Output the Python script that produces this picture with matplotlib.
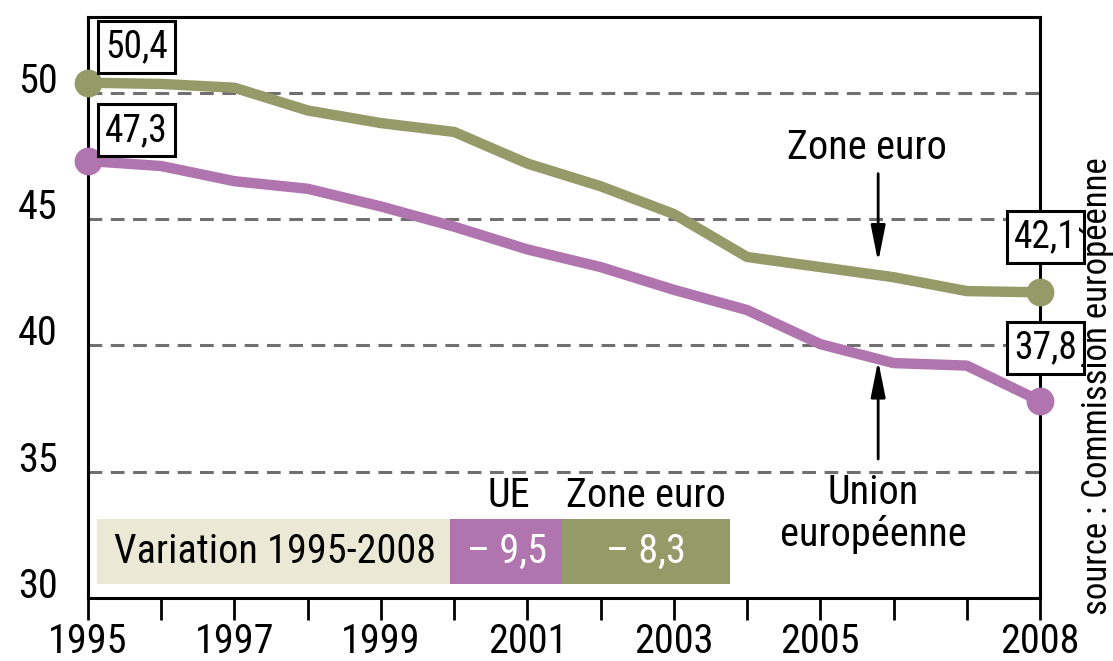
import matplotlib.pyplot as plt
import matplotlib.patches as mpatches
import numpy as np

# Data
years = np.arange(1995, 2009)
zone_euro = [50.4, 50.35, 50.2, 49.3, 48.8, 48.45, 47.2, 46.3, 45.2, 43.5, 43.1, 42.7, 42.15, 42.1]
union_eu = [47.3, 47.1, 46.5, 46.2, 45.5, 44.7, 43.8, 43.1, 42.2, 41.4, 40.05, 39.3, 39.2, 37.8]
year_labels = ['1995', '', '1997', '', '1999', '', '2001', '', '2003', '', '2005', '', '', '2008']
y_ticks = [30, 35, 40, 45, 50]
variation_ue = '– 9,5'
variation_ze = '– 8,3'

green = '#959b68'
purple = '#b075ae'
beige = '#ebe9d5'
plt.rcParams['font.family'] = ['Roboto Condensed', 'Archivo Narrow', 'DejaVu Sans']

fig = plt.figure(figsize=(11.13, 6.61), dpi=100)
ax = fig.add_axes([88 / 1113, 1 - 598 / 661, (1040 - 88) / 1113, (598 - 17) / 661])
ax.set_xlim(1995, 2008)
ax.set_ylim(30, 53)

# Grid
for v in [35, 40, 45, 50]:
    ax.axhline(v, color='#707070', lw=2.2, linestyle=(0, (4.5, 2.8)), zorder=1)

# Lines
ax.plot(years, zone_euro, color=green, lw=7.5, solid_capstyle='round', zorder=3)
ax.plot(years, union_eu, color=purple, lw=7.5, solid_capstyle='round', zorder=3)
ax.plot([years[0], years[-1]], [zone_euro[0], zone_euro[-1]], 'o', color=green,
        ms=19, clip_on=False, zorder=4)
ax.plot([years[0], years[-1]], [union_eu[0], union_eu[-1]], 'o', color=purple,
        ms=19, clip_on=False, zorder=4)

# Value boxes
box = dict(boxstyle='square,pad=0.2', fc='white', ec='black', lw=2.2)
def value_label(x, y, dx, dy):
    ax.annotate(f'{y:.1f}'.replace('.', ','), (x, y), xytext=(dx, dy),
                textcoords='offset points', ha='center', va='center',
                fontsize=27, bbox=box, zorder=6, annotation_clip=False)

value_label(years[0], zone_euro[0], 35, 26)
value_label(years[0], union_eu[0], 35, 22)
value_label(years[-1], zone_euro[-1], 4, 40)
value_label(years[-1], union_eu[-1], 4, 38)

# Series labels with arrows
ax.text(2005.64, 47.85, 'Zone euro', ha='center', va='center', fontsize=29)
ax.annotate('', xy=(2005.79, 43.3), xytext=(2005.79, 46.8),
            arrowprops=dict(arrowstyle='-|>,head_length=1.1,head_width=0.22',
                            mutation_scale=20, lw=2, color='black',
                            shrinkA=0, shrinkB=0))
ax.text(2005.72, 33.35, 'Union\neuropéenne', ha='center', va='center',
        fontsize=29, linespacing=1.1)
ax.annotate('', xy=(2005.79, 39.4), xytext=(2005.79, 35.5),
            arrowprops=dict(arrowstyle='-|>,head_length=1.1,head_width=0.22',
                            mutation_scale=20, lw=2, color='black',
                            shrinkA=0, shrinkB=0))

# Variation table
y0, y1 = 30.54, 33.14
ax.add_patch(mpatches.Rectangle((1995.12, y0), 1999.94 - 1995.12, y1 - y0, color=beige, lw=0, zorder=2))
ax.add_patch(mpatches.Rectangle((1999.94, y0), 2001.47 - 1999.94, y1 - y0, color=purple, lw=0, zorder=2))
ax.add_patch(mpatches.Rectangle((2001.47, y0), 2003.77 - 2001.47, y1 - y0, color=green, lw=0, zorder=2))
ym = (y0 + y1) / 2
ax.text(1997.55, ym, 'Variation 1995-2008', ha='center', va='center', fontsize=29, zorder=5)
ax.text(2000.72, ym, variation_ue, ha='center', va='center', fontsize=29, color='white', zorder=5)
ax.text(2002.62, ym, variation_ze, ha='center', va='center', fontsize=29, color='white', zorder=5)
ax.text(2000.75, 34.05, 'UE', ha='center', va='center', fontsize=29)
ax.text(2002.62, 34.05, 'Zone euro', ha='center', va='center', fontsize=29)

# Axes
ax.set_xticks(years)
ax.set_xticklabels(year_labels)
ax.set_yticks(y_ticks)
ax.tick_params(axis='x', direction='out', length=16, width=2, pad=1, labelsize=29)
ax.tick_params(axis='y', length=0, pad=22, labelsize=29)
for lab in ax.get_yticklabels():
    lab.set_va('baseline')
for s in ax.spines.values():
    s.set_linewidth(2.2)

fig.text(1097 / 1113, 1 - 386 / 661, 'source : Commission européenne', rotation=90,
         ha='center', va='center', fontsize=25)

fig.savefig('out.png', dpi=100)
